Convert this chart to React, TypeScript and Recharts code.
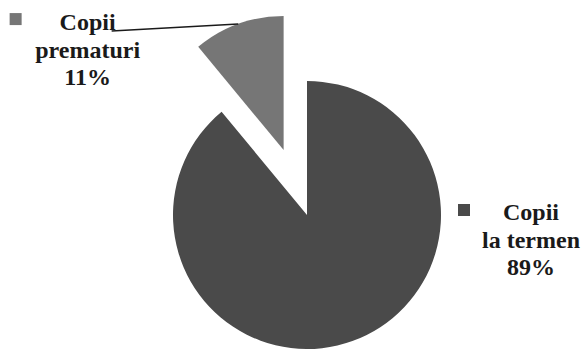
import React from "react";
import { PieChart, Pie, Cell } from "recharts";

const categories = ["Copii la termen", "Copii prematuri"];
const values = [89, 11];
const labelLines = [["Copii", "la termen", "89%"], ["Copii", "prematuri", "11%"]];
const colors = ["#4a4a4a", "#767676"];

const data = categories.map((name, i) => ({ name, value: values[i] }));

const W = 583;
const H = 349;
const CX = 307;
const CY = 215;
const R = 134;
const EXPLODE = 69;
const RAD = Math.PI / 180;

const total = values.reduce((a, b) => a + b, 0);
const start = 90;
const bigSweep = (values[0] / total) * 360;
const smallMid = start - bigSweep - ((values[1] / total) * 360) / 2;
const smallCx = CX + EXPLODE * Math.cos(smallMid * RAD);
const smallCy = CY - EXPLODE * Math.sin(smallMid * RAD);

const font = "Liberation Serif, Times New Roman, Times, DejaVu Serif, serif";

function LabelBlock({ x, y, idx, squareX, squareY }: any) {
  return (
    <g>
      <rect x={squareX} y={squareY} width={12} height={12} fill={colors[idx]} />
      {labelLines[idx].map((t, k) => (
        <text
          key={k}
          x={x}
          y={y + k * 27.5}
          textAnchor="middle"
          style={{ fontFamily: font, fontWeight: 700, fontSize: 24 }}
          fill="#1a1a1a"
        >
          {t}
        </text>
      ))}
    </g>
  );
}

const bigLabel = (p: any) => {
  if (p.index !== 0) return null;
  const { cx, cy, outerRadius } = p;
  return (
    <LabelBlock
      key="bl"
      idx={0}
      x={cx + outerRadius + 90}
      y={cy + 5}
      squareX={cx + outerRadius + 17}
      squareY={cy - 11}
    />
  );
};

const smallLabel = (p: any) => {
  if (p.index !== 1) return null;
  const { cx, cy, outerRadius, midAngle } = p;
  const ax = cx + outerRadius * Math.cos(-midAngle * RAD);
  const ay = cy + outerRadius * Math.sin(-midAngle * RAD);
  return (
    <g key="sl">
      <line x1={ax} y1={ay} x2={cx - 172} y2={cy - 119} stroke="#1a1a1a" strokeWidth={1.5} />
      <LabelBlock
        idx={1}
        x={cx - 196}
        y={cy - 120}
        squareX={cx - 274}
        squareY={cy - 137}
      />
    </g>
  );
};

export default function App() {
  return (
    <div style={{ position: "absolute", left: 0, top: 0, width: W, height: H, background: "#fff", fontFamily: font }}>
      <PieChart width={W} height={H} margin={{ top: 0, right: 0, bottom: 0, left: 0 }}>
        <Pie
          data={data}
          dataKey="value"
          nameKey="name"
          cx={CX}
          cy={CY}
          outerRadius={R}
          startAngle={start}
          endAngle={start - 360}
          stroke="none"
          label={bigLabel}
          labelLine={false}
          isAnimationActive={false}
        >
          {data.map((d, i) => (
            <Cell key={i} fill={i === 0 ? colors[0] : "none"} />
          ))}
        </Pie>
        <Pie
          data={data}
          dataKey="value"
          nameKey="name"
          cx={smallCx}
          cy={smallCy}
          outerRadius={R}
          startAngle={start}
          endAngle={start - 360}
          stroke="none"
          label={smallLabel}
          labelLine={false}
          isAnimationActive={false}
        >
          {data.map((d, i) => (
            <Cell key={i} fill={i === 1 ? colors[1] : "none"} />
          ))}
        </Pie>
      </PieChart>
    </div>
  );
}
